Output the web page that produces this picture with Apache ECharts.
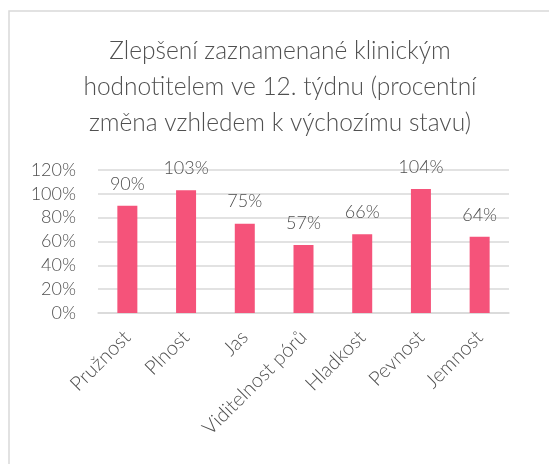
<!DOCTYPE html>
<html><head><meta charset="utf-8">
<script src="https://cdn.jsdelivr.net/npm/echarts@6/dist/echarts.min.js"></script>
<style>html,body{margin:0;padding:0;background:#fff}#c{width:549px;height:464px}</style>
</head><body><div id="c"></div>
<script>
const titleText = 'Zlepšení zaznamenané klinickým\nhodnotitelem ve 12. týdnu (procentní\nzměna vzhledem k výchozímu stavu)';
const categories = ['Pružnost','Plnost','Jas','Viditelnost pórů','Hladkost','Pevnost','Jemnost'];
const values = [90,103,75,57,66,104,64];
const yTicks = [0,20,40,60,80,100,120];
const FONT = 'Lato';
const TXT = '#505050';
const chart = echarts.init(document.getElementById('c'), null, {renderer:'canvas'});
chart.setOption({
  animation:false,
  backgroundColor:'#fff',
  graphic:[{type:'rect',shape:{x:9,y:11,width:600,height:500},style:{fill:'none',stroke:'#d9d9d9',lineWidth:1.5},silent:true}],
  title:{text:titleText,left:275,textAlign:'center',top:28,textStyle:{fontFamily:FONT,fontWeight:300,fontSize:24.5,lineHeight:36,color:TXT}},
  grid:{left:98,right:40,top:170,bottom:151,containLabel:false},
  xAxis:{type:'category',data:categories,axisLine:{lineStyle:{color:'#d9d9d9',width:1.5}},axisTick:{show:false},
    axisLabel:{rotate:45,interval:0,margin:21,fontFamily:FONT,fontWeight:300,fontSize:20,color:TXT}},
  yAxis:{type:'value',min:0,max:120,interval:20,axisLine:{show:false},axisTick:{show:false},
    splitLine:{lineStyle:{color:'#d9d9d9',width:1.5}},
    axisLabel:{margin:22,fontFamily:FONT,fontWeight:300,fontSize:18,color:TXT,formatter:v=>yTicks.includes(v)?v+'%':''}},
  series:[{type:'bar',data:values,barWidth:20,itemStyle:{color:'#F5537A'},
    label:{show:true,position:'top',distance:13,formatter:p=>p.value+'%',fontFamily:FONT,fontWeight:300,fontSize:18,color:TXT}}]
});
</script></body></html>
